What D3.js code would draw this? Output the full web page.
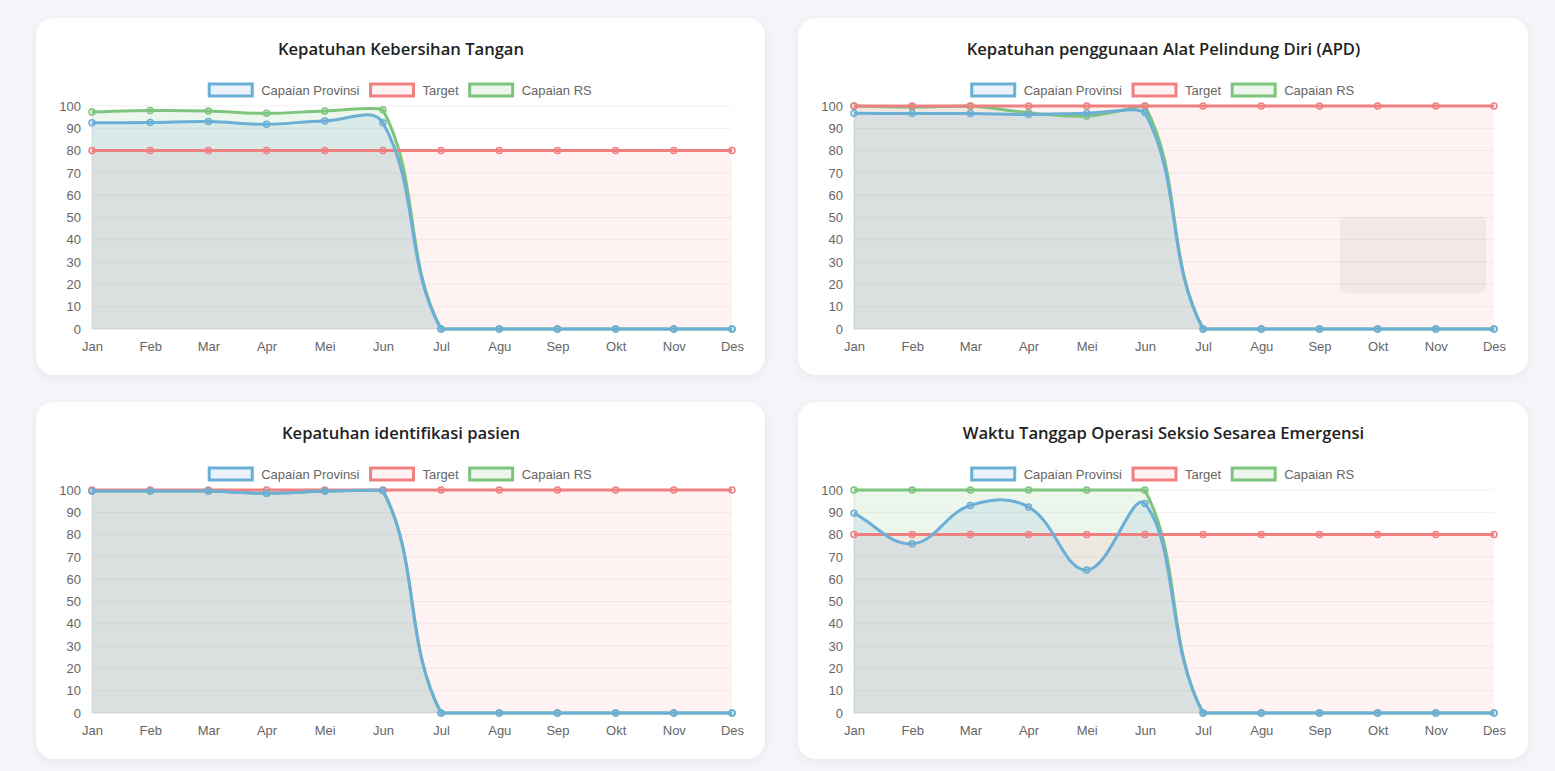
<!DOCTYPE html>
<html>
<head>
<meta charset="utf-8">
<script src="https://cdn.jsdelivr.net/npm/d3@7"></script>
<style>
  html, body { margin: 0; padding: 0; background: #f3f5f9; }
  svg { display: block; }
</style>
</head>
<body>
<script>
var width = 1555, height = 771;

var months = ["Jan","Feb","Mar","Apr","Mei","Jun","Jul","Agu","Sep","Okt","Nov","Des"];
var yTicks = [0,10,20,30,40,50,60,70,80,90,100];
var seriesNames = ["Capaian Provinsi","Target","Capaian RS"];

var titles = [
  "Kepatuhan Kebersihan Tangan",
  "Kepatuhan penggunaan Alat Pelindung Diri (APD)",
  "Kepatuhan identifikasi pasien",
  "Waktu Tanggap Operasi Seksio Sesarea Emergensi"
];

// Kepatuhan Kebersihan Tangan
var provTangan   = [92.5, 92.6, 93.0, 91.8, 93.3, 92.5, 0, 0, 0, 0, 0, 0];
var targetTangan = [80, 80, 80, 80, 80, 80, 80, 80, 80, 80, 80, 80];
var rsTangan     = [97.3, 98.0, 97.8, 96.7, 97.8, 98.3, 0, 0, 0, 0, 0, 0];

// Kepatuhan APD
var provApd   = [96.7, 96.6, 96.6, 96.2, 96.8, 97.1, 0, 0, 0, 0, 0, 0];
var targetApd = [100, 100, 100, 100, 100, 100, 100, 100, 100, 100, 100, 100];
var rsApd     = [100, 99.5, 100, 97.0, 95.5, 100, 0, 0, 0, 0, 0, 0];

// Kepatuhan identifikasi pasien
var provIdent   = [99.6, 99.5, 99.5, 98.5, 99.5, 99.8, 0, 0, 0, 0, 0, 0];
var targetIdent = [100, 100, 100, 100, 100, 100, 100, 100, 100, 100, 100, 100];
var rsIdent     = [99.6, 99.5, 99.5, 98.5, 99.5, 99.8, 0, 0, 0, 0, 0, 0];

// Waktu Tanggap SC Emergensi
var provSc   = [89.6, 75.9, 93.1, 92.4, 64.1, 93.9, 0, 0, 0, 0, 0, 0];
var targetSc = [80, 80, 80, 80, 80, 80, 80, 80, 80, 80, 80, 80];
var rsSc     = [100, 100, 100, 100, 100, 100, 0, 0, 0, 0, 0, 0];

var lineColors = ["rgb(107,174,214)", "rgb(240,128,128)", "rgb(125,196,125)"];
var fillColors = ["rgba(107,174,214,0.15)", "rgba(250,110,125,0.09)", "rgba(125,196,125,0.15)"];

var charts = [
  {title: titles[0], data: [provTangan, targetTangan, rsTangan], x: 36,  y: 18,  w: 729},
  {title: titles[1], data: [provApd, targetApd, rsApd],          x: 798, y: 18,  w: 730, tip: true},
  {title: titles[2], data: [provIdent, targetIdent, rsIdent],    x: 36,  y: 402, w: 729},
  {title: titles[3], data: [provSc, targetSc, rsSc],             x: 798, y: 402, w: 730}
];

var svg = d3.select("body").append("svg")
  .attr("width", width)
  .attr("height", height);

var defs = svg.append("defs");
var shadow = defs.append("filter").attr("id", "shadow")
  .attr("x", "-5%").attr("y", "-5%").attr("width", "110%").attr("height", "115%");
shadow.append("feDropShadow")
  .attr("dx", 0).attr("dy", 2).attr("stdDeviation", 5)
  .attr("flood-color", "#000").attr("flood-opacity", 0.06);

// chart.js style bezier (tension 0.4, control points capped to the chart area)
function controlPoints(pts, t, area) {
  return pts.map(function(cur, i) {
    var prev = pts[i-1] || cur, next = pts[i+1] || cur;
    var d01 = Math.hypot(cur.x-prev.x, cur.y-prev.y),
        d12 = Math.hypot(next.x-cur.x, next.y-cur.y);
    var s01 = d01/(d01+d12), s12 = d12/(d01+d12);
    if (isNaN(s01)) s01 = 0;
    if (isNaN(s12)) s12 = 0;
    var fa = t*s01, fb = t*s12;
    var cap = function(p) {
      return {x: Math.max(area.left, Math.min(area.right, p.x)),
              y: Math.max(area.top, Math.min(area.bottom, p.y))};
    };
    return {
      p: cap({x: cur.x - fa*(next.x-prev.x), y: cur.y - fa*(next.y-prev.y)}),
      n: cap({x: cur.x + fb*(next.x-prev.x), y: cur.y + fb*(next.y-prev.y)})
    };
  });
}

function splinePath(pts, area, closeTo) {
  var cps = controlPoints(pts, 0.4, area);
  var p = d3.path();
  p.moveTo(pts[0].x, pts[0].y);
  for (var i = 1; i < pts.length; i++) {
    p.bezierCurveTo(cps[i-1].n.x, cps[i-1].n.y, cps[i].p.x, cps[i].p.y, pts[i].x, pts[i].y);
  }
  if (closeTo != null) {
    p.lineTo(pts[pts.length-1].x, closeTo);
    p.lineTo(pts[0].x, closeTo);
    p.closePath();
  }
  return p.toString();
}

charts.forEach(function(c) {
  var g = svg.append("g").attr("transform", "translate(" + c.x + "," + c.y + ")");

  g.append("rect")
    .attr("width", c.w).attr("height", 357)
    .attr("rx", 18)
    .attr("fill", "#fff")
    .attr("filter", "url(#shadow)");

  g.append("text")
    .attr("x", c.w/2 + 0.5).attr("y", 37)
    .attr("text-anchor", "middle")
    .style("font-family", "'Open Sans', sans-serif")
    .style("font-weight", 600)
    .style("font-size", "16.6px")
    .style("fill", "#222")
    .text(c.title);

  var area = {left: 56, right: 696, top: 88, bottom: 311};

  var xSc = d3.scalePoint().domain(months).range([area.left, area.right]);
  var ySc = d3.scaleLinear().domain([0,100]).range([area.bottom, area.top]);

  // grid
  g.selectAll("line.grid")
    .data(yTicks)
    .enter().append("line")
    .attr("class", "grid")
    .attr("x1", area.left).attr("x2", area.right)
    .attr("y1", function(d) { return ySc(d); })
    .attr("y2", function(d) { return ySc(d); })
    .style("stroke", function(d) { return d === 0 ? "rgba(0,0,0,0.12)" : "rgba(0,0,0,0.06)"; })
    .style("stroke-width", 1);

  g.append("line")
    .attr("x1", area.left).attr("x2", area.left)
    .attr("y1", area.top).attr("y2", area.bottom)
    .style("stroke", "rgba(0,0,0,0.1)");

  // axes
  var yAxis = d3.axisLeft(ySc).tickValues(yTicks).tickSize(0).tickPadding(11);
  var xAxis = d3.axisBottom(xSc).tickSize(0).tickPadding(13);

  var ya = g.append("g").attr("transform", "translate(" + area.left + ",0)").call(yAxis);
  var xa = g.append("g").attr("transform", "translate(0," + area.bottom + ")").call(xAxis);
  [ya, xa].forEach(function(a) {
    a.select(".domain").remove();
    a.selectAll("text")
      .style("font-family", "'Liberation Sans', Arial, sans-serif")
      .style("font-size", "13px")
      .style("fill", "#666");
  });

  // datasets, drawn last-to-first so that Capaian Provinsi is on top
  var sets = c.data.map(function(vals, i) {
    return {i: i, pts: vals.map(function(v, j) { return {x: xSc(months[j]), y: ySc(v)}; })};
  }).reverse();

  sets.forEach(function(s) {
    g.append("path")
      .attr("d", splinePath(s.pts, area, ySc(0)))
      .style("fill", fillColors[s.i])
      .style("stroke", "none");
  });

  sets.forEach(function(s) {
    g.append("path")
      .attr("d", splinePath(s.pts, area, null))
      .style("fill", "none")
      .style("stroke", lineColors[s.i])
      .style("stroke-width", 3);

    g.selectAll(null)
      .data(s.pts)
      .enter().append("circle")
      .attr("cx", function(d) { return d.x; })
      .attr("cy", function(d) { return d.y; })
      .attr("r", 3)
      .style("fill", fillColors[s.i])
      .style("stroke", lineColors[s.i])
      .style("stroke-width", 1.5);
  });

  // faded tooltip left on the APD chart
  if (c.tip) {
    g.append("rect")
      .attr("x", 542).attr("y", 199)
      .attr("width", 146).attr("height", 76)
      .attr("rx", 5)
      .style("fill", "rgba(0,0,0,0.045)");
  }

  // legend
  var leg = g.append("g");
  var items = leg.selectAll("g")
    .data(seriesNames)
    .enter().append("g");

  items.append("rect")
    .attr("width", 43).attr("height", 12)
    .attr("y", 66)
    .style("fill", function(d, i) { return fillColors[i]; })
    .style("stroke", function(d, i) { return lineColors[i]; })
    .style("stroke-width", 3);

  items.append("text")
    .attr("x", 52).attr("y", 72)
    .attr("dy", "0.35em")
    .style("font-family", "'Liberation Sans', Arial, sans-serif")
    .style("font-size", "13px")
    .style("fill", "#666")
    .text(function(d) { return d; });

  var offs = 0, widths = [];
  items.each(function() {
    var w = 52 + d3.select(this).select("text").node().getComputedTextLength();
    widths.push(w);
  });
  var total = d3.sum(widths) + 11*(widths.length-1);
  var start = c.w/2 - total/2;
  items.attr("transform", function(d, i) {
    var x = start + offs;
    offs += widths[i] + 11;
    return "translate(" + x + ",0)";
  });
});
</script>
</body>
</html>
